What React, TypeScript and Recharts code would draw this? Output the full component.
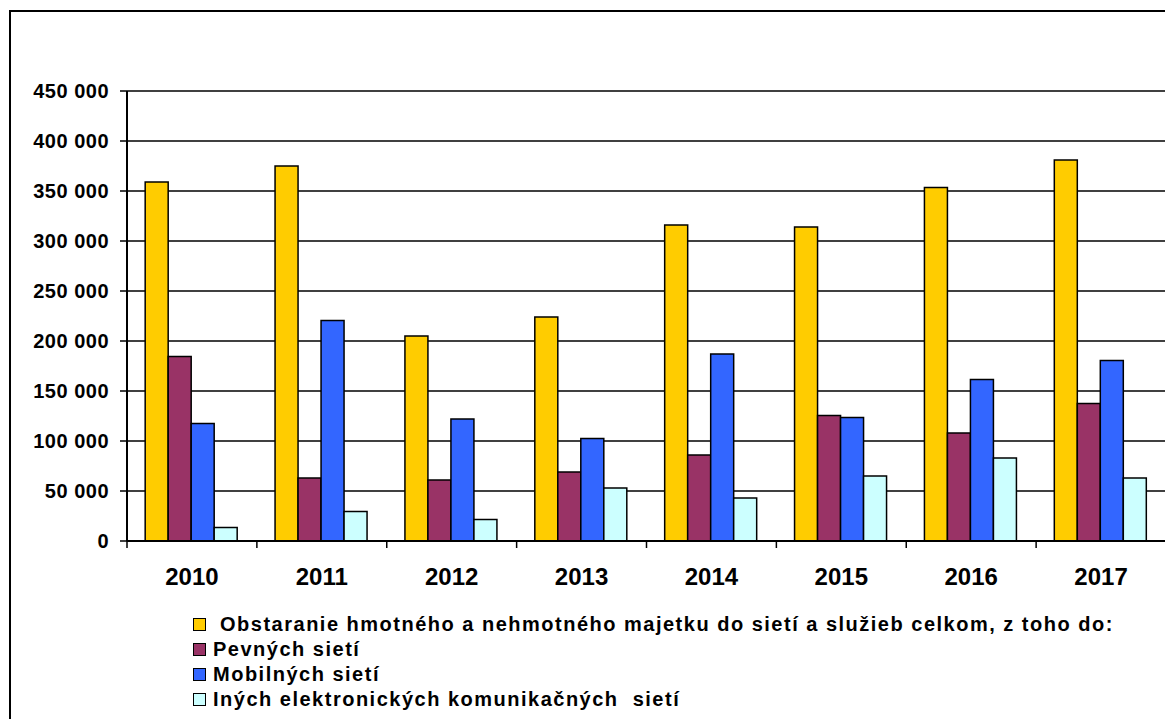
import { BarChart, Bar, XAxis, YAxis, CartesianGrid, Legend } from "recharts";

const years = ["2010", "2011", "2012", "2013", "2014", "2015", "2016", "2017"];
const total = [359000, 375000, 205000, 224000, 316000, 314000, 353500, 381000];
const fixedNet = [184500, 63000, 61000, 69000, 86000, 125500, 108000, 137500];
const mobileNet = [117500, 220500, 122000, 102500, 187000, 123500, 161500, 180500];
const otherNet = [13500, 29500, 21500, 53000, 43000, 65000, 83000, 63000];
const yTicks = [0, 50000, 100000, 150000, 200000, 250000, 300000, 350000, 400000, 450000];

const series = [
  { key: "total", name: " Obstaranie hmotného a nehmotného majetku do sietí a služieb celkom, z toho do:", color: "#FFCC00" },
  { key: "fixed", name: "Pevných sietí", color: "#993366" },
  { key: "mobile", name: "Mobilných sietí", color: "#3366FF" },
  { key: "other", name: "Iných elektronických komunikačných  sietí", color: "#CCFFFF" },
];

const data = years.map((year, i) => ({
  year,
  total: total[i],
  fixed: fixedNet[i],
  mobile: mobileNet[i],
  other: otherNet[i],
}));

const FONT = '"Liberation Sans", Arial, sans-serif';

const fmt = (v: number) => String(v).replace(/\B(?=(\d{3})+(?!\d))/g, " ");

const YearTick = (props: any) => {
  const { x, y, payload, index, width, visibleTicksCount } = props;
  const half = payload?.offset || width / visibleTicksCount / 2;
  return (
    <g>
      <line x1={x - half} x2={x - half} y1={y} y2={y + 7} stroke="#000" strokeWidth={1.5} />
      {index === visibleTicksCount - 1 && (
        <line x1={x + half} x2={x + half} y1={y} y2={y + 7} stroke="#000" strokeWidth={1.5} />
      )}
      <text x={x} y={y + 44} textAnchor="middle" fontFamily={FONT} fontWeight="bold" fontSize={24} fill="#000">
        {payload.value}
      </text>
    </g>
  );
};

// keep the legend in series order (recharts sorts the payload by name)
const LegendBox = (props: any) => {
  const items = [...(props.payload || [])].sort(
    (a: any, b: any) =>
      series.findIndex((s) => s.key === a.dataKey) - series.findIndex((s) => s.key === b.dataKey)
  );
  return (
    <div style={{ fontFamily: FONT, fontWeight: "bold", fontSize: 20, color: "#000", letterSpacing: 1.5 }}>
      {items.map((p: any) => (
        <div key={p.dataKey} style={{ height: 25, display: "flex", alignItems: "center", whiteSpace: "pre" }}>
          <span
            style={{
              display: "inline-block",
              width: 11,
              height: 11,
              background: p.color,
              border: "1.5px solid #000",
              marginRight: 7,
            }}
          />
          <span>{p.value}</span>
        </div>
      ))}
    </div>
  );
};

export default function App() {
  return (
    <div style={{ position: "relative", width: 1165, height: 711, background: "#fff" }}>
      <div
        style={{
          position: "absolute",
          left: 1,
          top: 2,
          width: 1200,
          height: 760,
          borderLeft: "2px solid #000",
          borderTop: "2px solid #000",
          pointerEvents: "none",
        }}
      />
      <div style={{ position: "absolute", left: 0, top: 0, overflow: "hidden", width: 1165, height: 711 }}>
        <BarChart
          width={1165}
          height={711}
          data={data}
          margin={{ top: 83, right: 6, left: 0, bottom: 8 }}
          barCategoryGap="14%"
          barGap={0}
        >
          <CartesianGrid vertical={false} stroke="#000" strokeWidth={1.5} />
          <XAxis
            dataKey="year"
            height={70}
            axisLine={{ stroke: "#000", strokeWidth: 2 }}
            tickLine={false}
            tickSize={0}
            tickMargin={0}
            interval={0}
            tick={<YearTick />}
          />
          <YAxis
            width={119}
            domain={[0, 450000]}
            ticks={yTicks}
            tickFormatter={fmt}
            axisLine={{ stroke: "#000", strokeWidth: 2 }}
            tickLine={{ stroke: "#000", strokeWidth: 1.5 }}
            tickSize={7}
            tickMargin={11}
            tick={{ fontFamily: FONT, fontWeight: "bold", fontSize: 20, fill: "#000", letterSpacing: 0.5 }}
          />
          <YAxis
            yAxisId="frame"
            orientation="right"
            width={1}
            domain={[0, 450000]}
            tick={false}
            tickLine={false}
            axisLine={{ stroke: "#000", strokeWidth: 1.5 }}
          />
          <Legend
            verticalAlign="bottom"
            content={<LegendBox />}
            wrapperStyle={{ left: 185, top: 604, width: "auto" }}
          />
          {series.map((s) => (
            <Bar
              key={s.key}
              dataKey={s.key}
              name={s.name}
              fill={s.color}
              stroke="#000"
              strokeWidth={1.5}
              isAnimationActive={false}
            />
          ))}
        </BarChart>
      </div>
    </div>
  );
}
